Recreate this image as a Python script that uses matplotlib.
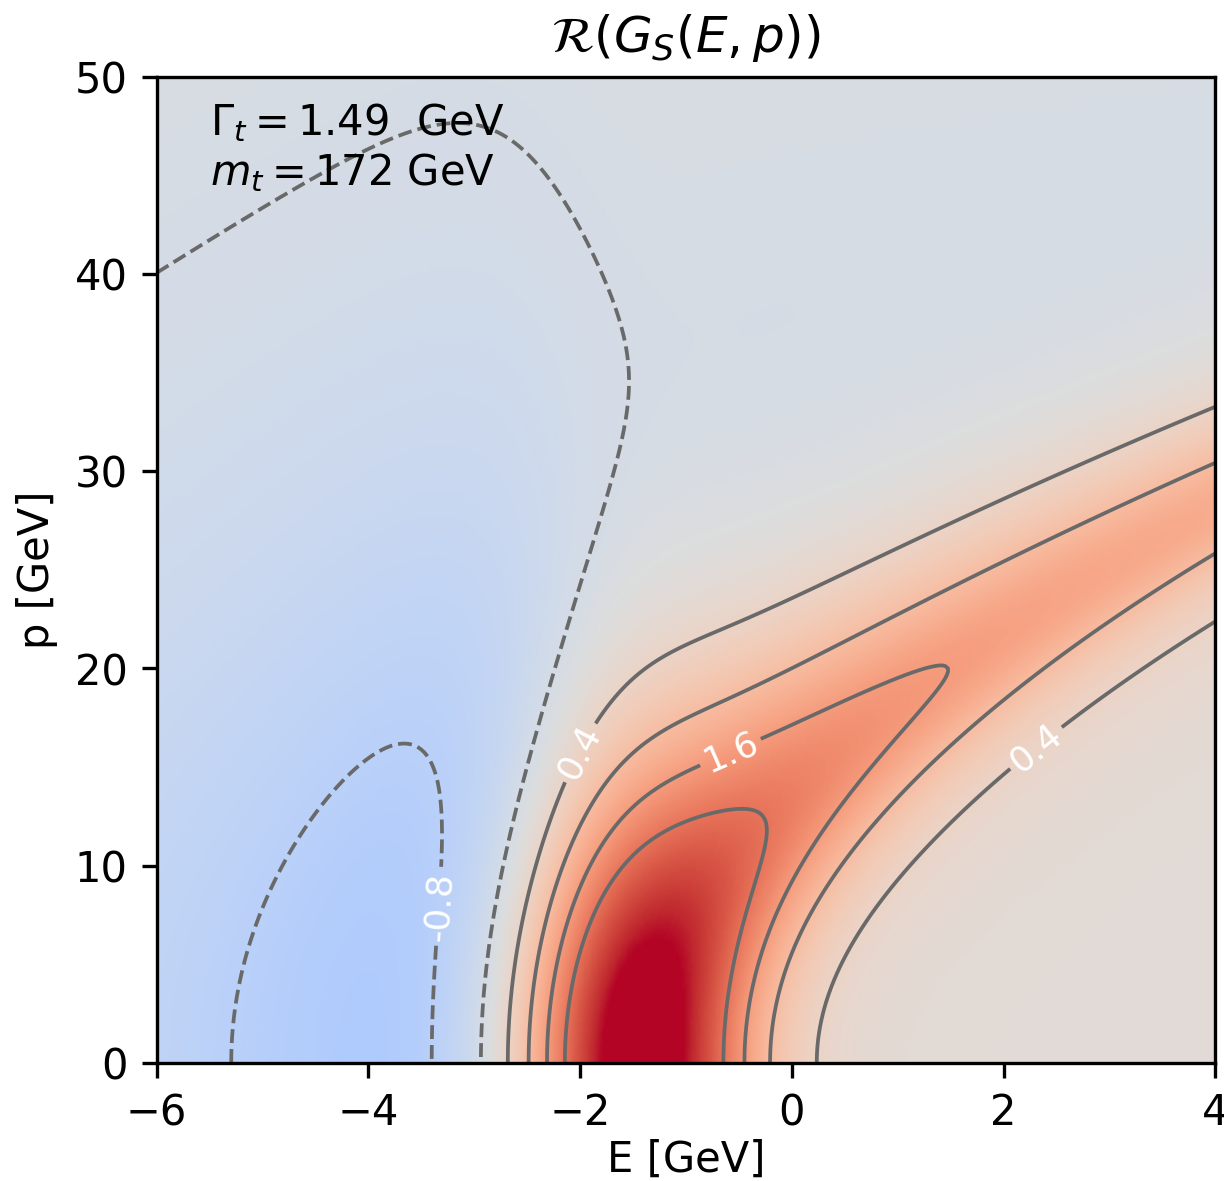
import numpy as np
import matplotlib.pyplot as plt
from matplotlib.colors import Normalize

# physics inputs (as printed on the chart)
m_t = 172.0      # GeV
gamma_t = 1.49   # GeV
alpha_s = 0.168  # strong coupling used for the Coulomb potential
c_f = 4.0 / 3.0

# grid of the chart
e_vals = np.linspace(-6.0, 4.0, 401)
p_vals = np.linspace(0.0, 50.0, 301)
levels = [-0.8, -0.2, 0.4, 1.0, 1.6, 2.2]
# rough spots where the inline labels sit (E, p): 0.4, 1.6, 0.4, -0.8
label_spots = [(-2.1, 16.0), (-0.6, 16.0), (2.3, 16.0), (-3.5, 8.0)]
color_clip = 0.88   # colour scale saturates a bit below the peak


def green_coulomb(energy, p, n_nodes=900):
    """Momentum-space Coulomb Green function G(E+i*Gamma, p), one end at r=0."""
    u, w = np.polynomial.legendre.leggauss(n_nodes)
    u = 0.5 * (u + 1.0)
    w = 0.5 * w
    k = 3
    t = (u / (1.0 - u)) ** k
    dt = w * k * u ** (k - 1) / (1.0 - u) ** (k + 1)

    kappa = np.sqrt(-m_t * (energy + 1j * gamma_t))
    lam = c_f * alpha_s * m_t / (2.0 * kappa)

    s = 1.0 + 2.0 * t
    d = kappa ** 2 * s[None, :] ** 2 + p[:, None] ** 2
    f = np.power((1.0 + t).astype(complex), lam)[None, :] * s[None, :] / d ** 2
    fp = f * (lam / (1.0 + t) + 2.0 / s - 8.0 * kappa ** 2 * s / d)
    tl = np.power(t.astype(complex), 1.0 - lam)
    # integration by parts continues the t^-lam integral past lam = 1
    integral = -np.sum(tl[None, :] * fp * dt[None, :], axis=1) / (1.0 - lam)
    # sign convention: G = 1/(E + i Gamma - H)
    return -4.0 * m_t * kappa ** 2 * integral


G = np.array([green_coulomb(e, p_vals) for e in e_vals]).T
Z = G.real

vmax = color_clip * np.abs(Z).max()

fig = plt.figure(figsize=(4.08, 3.937), dpi=300)
ax = fig.add_axes([0.128, 0.1, 0.865, 0.835])

ax.pcolormesh(e_vals, p_vals, Z, cmap="coolwarm",
              norm=Normalize(-vmax, vmax), shading="gouraud", rasterized=True)
cs = ax.contour(e_vals, p_vals, Z, levels=levels, colors="dimgray",
                linewidths=0.9)
ax.clabel(cs, inline=True, fontsize=8.5, colors="white",
          fmt="%.1f", manual=label_spots)

ax.text(0.05, 0.975, "$\\Gamma_t = 1.49$  GeV\n$m_t = 172$ GeV",
        transform=ax.transAxes, ha="left", va="top", fontsize=10)

ax.set_xlim(-6, 4)
ax.set_ylim(0, 50)
ax.set_xlabel("E [GeV]", labelpad=1)
ax.set_ylabel("p [GeV]")
ax.set_title("$\\mathcal{R}(G_S(E,p))$")

fig.savefig("out.png", dpi=300)
